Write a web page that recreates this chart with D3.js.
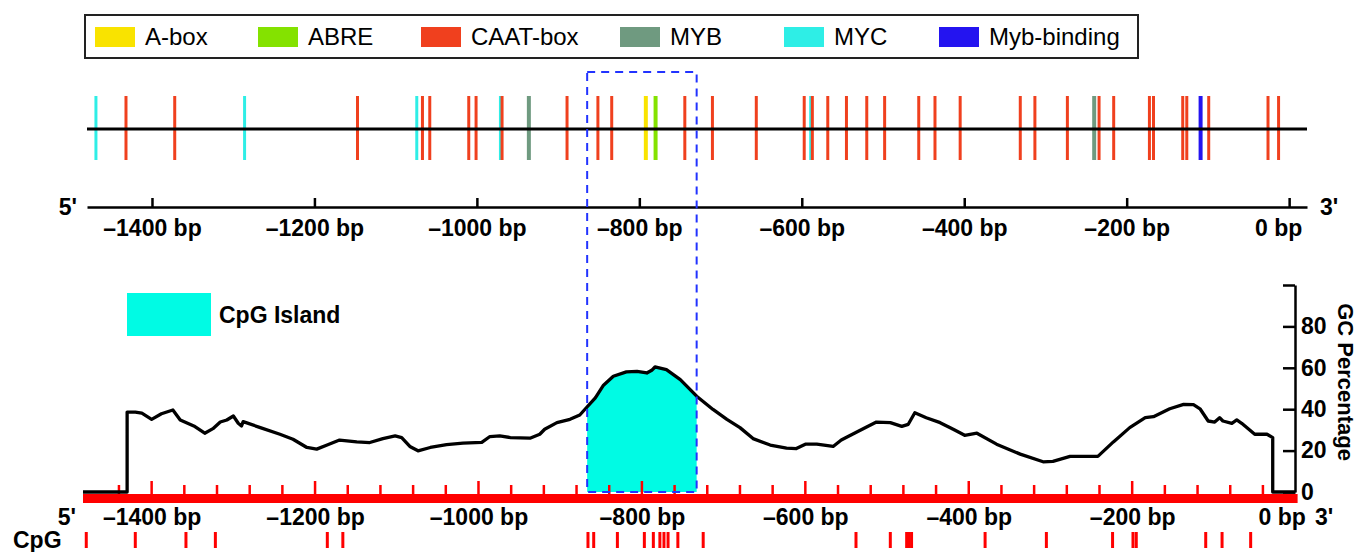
<html>
<head>
<style>
  body { margin: 0; background: #fff; }
  svg text { font-family: "Liberation Sans", Arial, sans-serif; }
  .bold { font-weight: bold; }
</style>
<script src="https://d3js.org/d3.v7.min.js"></script>
</head>
<body>
<div id="chart"></div>
<script>
// motif legend
var motifTypes = ["A-box", "ABRE", "CAAT-box", "MYB", "MYC", "Myb-binding"];
var motifColors = ["#f9e300", "#84e200", "#f0401e", "#6f9a80", "#2eeee6", "#2414f0"];

// cis-elements on the promoter (bp upstream of TSS)
var sitePos = [-1469, -1432, -1372, -1286, -1147, -1074, -1067, -1058, -1010, -1001,
               -971, -969, -936, -889, -851, -834, -792, -780, -744, -710,
               -656, -597, -589, -587, -568, -545, -520, -498, -456, -436,
               -405, -331, -313, -273, -240, -234, -216, -172, -167, -131,
               -126, -109, -99, -26, -13];
var siteType = ["MYC", "CAAT-box", "CAAT-box", "MYC", "CAAT-box", "MYC", "CAAT-box", "CAAT-box", "CAAT-box", "CAAT-box",
                "MYC", "CAAT-box", "MYB", "CAAT-box", "CAAT-box", "CAAT-box", "A-box", "ABRE", "CAAT-box", "CAAT-box",
                "CAAT-box", "CAAT-box", "MYC", "CAAT-box", "CAAT-box", "CAAT-box", "CAAT-box", "CAAT-box", "CAAT-box", "CAAT-box",
                "CAAT-box", "CAAT-box", "CAAT-box", "CAAT-box", "MYB", "CAAT-box", "CAAT-box", "CAAT-box", "CAAT-box", "CAAT-box",
                "CAAT-box", "Myb-binding", "CAAT-box", "CAAT-box", "CAAT-box"];

// GC percentage along the sequence
var gcPos = [-1484, -1430, -1430, -1420, -1412, -1400, -1388, -1374, -1365, -1347,
             -1335, -1325, -1316, -1308, -1300, -1294, -1290, -1288, -1267, -1243,
             -1227, -1210, -1198, -1186, -1170, -1149, -1133, -1117, -1102, -1094,
             -1084, -1074, -1059, -1039, -1019, -996, -986, -974, -961, -937,
             -925, -919, -904, -888, -876, -868, -857, -847, -835, -819,
             -806, -794, -788, -784, -770, -753, -733, -713, -696, -680,
             -664, -643, -623, -611, -600, -586, -566, -556, -537, -513,
             -496, -482, -474, -466, -452, -435, -419, -405, -390, -366,
             -337, -309, -297, -276, -242, -223, -203, -184, -174, -154,
             -137, -125, -117, -107, -99, -93, -89, -78, -72, -66,
             -50, -35, -28, -28, 0];
var gcVal = [0, 0, 38.6, 38.6, 38.1, 35.1, 37.8, 39.6, 34.8, 31.6,
             28.4, 30.6, 33.8, 34.8, 36.7, 33.2, 31.9, 34, 31.1, 27.9,
             25.5, 21.5, 20.7, 22.6, 25.1, 24.2, 23.9, 25.8, 27.1, 26.3,
             22, 19.9, 21.5, 22.9, 23.6, 24, 26.8, 27.1, 26.3, 26,
             27.9, 30.3, 33.5, 35.1, 37.2, 40.7, 45.5, 51.6, 55.9, 58,
             58.3, 57.5, 58.8, 60.4, 59.1, 54.3, 46.3, 39.9, 35.1, 31.1,
             25.8, 22.7, 21.2, 21, 23.1, 23.1, 22, 25.1, 29, 33.8,
             33.5, 31.7, 32.7, 38.3, 35.9, 33.5, 30.3, 27.4, 28.4, 23.1,
             18.3, 14.6, 14.8, 17.2, 17.2, 24.2, 31.1, 35.9, 36.4, 40.2,
             42.3, 42.2, 40.2, 34.3, 33.8, 35.9, 34.3, 33.2, 34.8, 33.2,
             27.9, 27.9, 26.3, 0, 0];

// CpG island and single CpG sites
var island = [-867, -733];
var cpgPos = [-1480, -1420, -1358, -1322, -1185, -1166, -866, -859, -830, -797,
              -786, -778, -773, -768, -756, -725, -538, -496, -476, -473,
              -470, -380, -305, -224, -199, -195, -110, -90, -55];

var axisTicks = [-1400, -1200, -1000, -800, -600, -400, -200, 0];
var gcTicks = [0, 20, 40, 60, 80, 100];

var width = 1361, height = 552;
var svg = d3.select("#chart").append("svg").attr("width", width).attr("height", height);

var color = d3.scaleOrdinal().domain(motifTypes).range(motifColors);
var xTop = d3.scaleLinear().domain([-1480, 22]).range([87, 1307]);
var xBot = d3.scaleLinear().domain([-1484, 0]).range([83, 1295.6]);
var y = d3.scaleLinear().domain([0, 100]).range([492, 285]);

function bpLabel(d) { return d == 0 ? "0 bp" : "\u2013" + Math.abs(d) + " bp"; }

// legend box
var legendX = [95, 258, 421, 620, 784, 939];
svg.append("rect").attr("x", 85).attr("y", 15).attr("width", 1053).attr("height", 43)
   .attr("fill", "none").attr("stroke", "#222").attr("stroke-width", 2);
var leg = svg.selectAll(".leg").data(motifTypes).enter().append("g")
   .attr("transform", function(d, i) { return "translate(" + legendX[i] + ",0)"; });
leg.append("rect").attr("y", 27).attr("width", 40).attr("height", 20).attr("fill", function(d) { return color(d); });
leg.append("text").attr("x", 50).attr("y", 45).style("font-size", "24px").text(function(d) { return d; });

// motif track
svg.selectAll(".site").data(sitePos).enter().append("line")
   .attr("x1", function(d) { return xTop(d); }).attr("x2", function(d) { return xTop(d); })
   .attr("y1", 96).attr("y2", 160)
   .attr("stroke", function(d, i) { return color(siteType[i]); })
   .attr("stroke-width", function(d, i) { return siteType[i] == "CAAT-box" || siteType[i] == "MYC" ? 3 : 4; });
svg.append("line").attr("x1", xTop.range()[0]).attr("x2", xTop.range()[1]).attr("y1", 129).attr("y2", 129)
   .attr("stroke", "#000").attr("stroke-width", 3.2);

// top axis
var topAxis = svg.append("g").attr("transform", "translate(0,207)")
   .call(d3.axisBottom(xTop).tickValues(axisTicks).tickFormat(bpLabel).tickSizeInner(-9).tickSizeOuter(0).tickPadding(13));
topAxis.selectAll("path, line").attr("stroke", "#000").attr("stroke-width", 2.5);
topAxis.selectAll("text").attr("class", "bold").style("font-size", "23px").attr("fill", "#000")
   .attr("dx", function(d) { return d == 0 ? -11 : 0; });
svg.append("text").attr("class", "bold").attr("x", 77).attr("y", 215).attr("text-anchor", "end").style("font-size", "23px").text("5'");
svg.append("text").attr("class", "bold").attr("x", 1320).attr("y", 215).style("font-size", "23px").text("3'");

// CpG island legend
svg.append("rect").attr("x", 127).attr("y", 293).attr("width", 84).attr("height", 43).attr("fill", "#00fbe4");
svg.append("text").attr("class", "bold").attr("x", 219).attr("y", 323).style("font-size", "23px").text("CpG Island");

// island fill under the GC curve
svg.append("clipPath").attr("id", "islandClip").append("rect")
   .attr("x", xBot(island[0])).attr("width", xBot(island[1]) - xBot(island[0]))
   .attr("y", 0).attr("height", height);
var gcData = gcPos.map(function(d, i) { return [d, gcVal[i]]; });
svg.append("path").datum(gcData).attr("clip-path", "url(#islandClip)")
   .attr("fill", "#00fbe4")
   .attr("d", d3.area().x(function(d) { return xBot(d[0]); }).y0(y(0)).y1(function(d) { return y(d[1]); }));

// red sequence bar with ruler ticks
svg.append("rect").attr("x", xBot(-1484)).attr("y", 494).attr("width", 1297.6 - xBot(-1484)).attr("height", 9).attr("fill", "#ff0000");
svg.selectAll(".rtick").data(d3.range(-1440, 0, 40)).enter().append("line")
   .attr("x1", function(d) { return xBot(d); }).attr("x2", function(d) { return xBot(d); })
   .attr("y1", function(d) { return d % 200 == 0 ? 481 : 485; }).attr("y2", 495)
   .attr("stroke", "#ff0000").attr("stroke-width", 2.5);

// GC line
svg.append("path").datum(gcData).attr("fill", "none").attr("stroke", "#000").attr("stroke-width", 3.3)
   .attr("stroke-linejoin", "round")
   .attr("d", d3.line().x(function(d) { return xBot(d[0]); }).y(function(d) { return y(d[1]); }));

// dashed island box spanning both panels
svg.append("rect").attr("x", xBot(island[0])).attr("y", 72)
   .attr("width", xBot(island[1]) - xBot(island[0])).attr("height", 492 - 72)
   .attr("fill", "none").attr("stroke", "#2233ff").attr("stroke-width", 2).attr("stroke-dasharray", "8,6");

// GC axis on the right
var gcAxis = svg.append("g").attr("transform", "translate(1295,0)")
   .call(d3.axisRight(y).tickValues(gcTicks).tickFormat(function(d) { return d == 100 ? "" : d; })
   .tickSizeInner(-12).tickSizeOuter(0).tickPadding(6));
gcAxis.selectAll("path, line").attr("stroke", "#000").attr("stroke-width", 2.5);
gcAxis.selectAll("text").attr("class", "bold").style("font-size", "23px").attr("fill", "#000");
svg.append("text").attr("class", "bold").attr("transform", "translate(1338,382) rotate(90)")
   .attr("text-anchor", "middle").style("font-size", "22px").text("GC Percentage");

// bottom axis labels
var botAxis = svg.append("g").attr("transform", "translate(0,498)")
   .call(d3.axisBottom(xBot).tickValues(axisTicks).tickFormat(bpLabel).tickSize(0).tickPadding(11));
botAxis.select(".domain").remove();
botAxis.selectAll("text").attr("class", "bold").style("font-size", "23px").attr("fill", "#000")
   .attr("dx", function(d) { return d == 0 ? -14 : 0; });
svg.append("text").attr("class", "bold").attr("x", 76).attr("y", 525).attr("text-anchor", "end").style("font-size", "23px").text("5'");
svg.append("text").attr("class", "bold").attr("x", 1315).attr("y", 525).style("font-size", "23px").text("3'");

// CpG sites row
svg.append("text").attr("class", "bold").attr("x", 13).attr("y", 548).style("font-size", "23px").text("CpG");
svg.selectAll(".cpg").data(cpgPos).enter().append("line")
   .attr("x1", function(d) { return xBot(d); }).attr("x2", function(d) { return xBot(d); })
   .attr("y1", 532).attr("y2", 548).attr("stroke", "#ff0000").attr("stroke-width", 3);
</script>
</body>
</html>
